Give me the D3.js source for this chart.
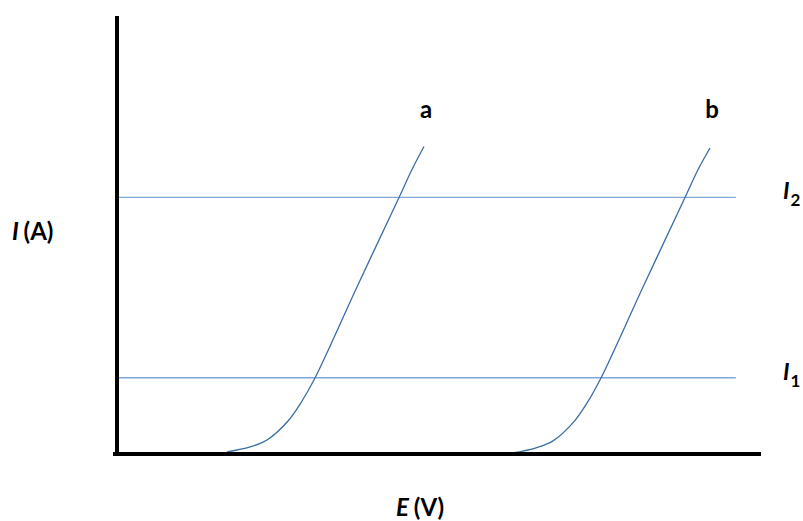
<!DOCTYPE html>
<html>
<head>
<meta charset="utf-8">
<script src="https://cdn.jsdelivr.net/npm/d3@7"></script>
<style>
  html, body { margin: 0; padding: 0; background: #fff; }
  svg { display: block; }
  text { font-family: Lato, "Open Sans", sans-serif; font-weight: bold; fill: #000; }
</style>
</head>
<body>
<svg id="chart" width="803" height="521"></svg>
<script>
// ---- data (arbitrary units) ----
const curveAE = [1.721, 2.078, 2.341, 2.667, 2.884, 3.085, 3.736, 4.388, 4.589, 4.775];
const curveAI = [0.046, 0.160, 0.320, 0.753, 1.210, 1.735, 3.813, 5.856, 6.495, 7.021];
const curveBE = [6.155, 6.512, 6.775, 7.101, 7.318, 7.519, 8.171, 8.822, 9.023, 9.209];
const curveBI = [0.023, 0.140, 0.300, 0.740, 1.200, 1.735, 3.813, 5.856, 6.490, 6.986];
const levelNames = ["1", "2"];
const levelValues = [1.74, 5.86];
const curveNames = ["a", "b"];
const xDomain = [0, 10];
const yDomain = [0, 10];
const levelEndE = 9.61;

const svg = d3.select("#chart");
const x = d3.scaleLinear().domain(xDomain).range([116, 761]);
const y = d3.scaleLinear().domain(yDomain).range([454, 16]);

// horizontal level lines
svg.selectAll("line.level").data(levelValues).enter().append("line")
  .attr("class", "level")
  .attr("x1", x(0)).attr("x2", x(levelEndE))
  .attr("y1", d => y(d)).attr("y2", d => y(d))
  .attr("stroke", "#7ea8dc").attr("stroke-width", 1.4);

// curves
const series = [
  { name: curveNames[0], pts: curveAE.map((e, i) => [e, curveAI[i]]) },
  { name: curveNames[1], pts: curveBE.map((e, i) => [e, curveBI[i]]) }
];
const line = d3.line().x(d => x(d[0])).y(d => y(d[1])).curve(d3.curveCatmullRom.alpha(0.5));
svg.selectAll("path.curve").data(series).enter().append("path")
  .attr("class", "curve")
  .attr("d", d => line(d.pts))
  .attr("fill", "none").attr("stroke", "#3a6ea5").attr("stroke-width", 1.3);

// curve labels
svg.selectAll("text.clabel").data(series).enter().append("text")
  .attr("class", "clabel")
  .attr("x", d => x(d.pts[d.pts.length - 1][0]) + 2)
  .attr("y", 118)
  .attr("text-anchor", "middle")
  .attr("font-size", 24)
  .text(d => d.name);

// axes (thick black lines)
svg.append("line")
  .attr("x1", x(0) + 1).attr("x2", x(0) + 1)
  .attr("y1", y(yDomain[1])).attr("y2", y(0) + 2)
  .attr("stroke", "#000").attr("stroke-width", 4);
svg.append("line")
  .attr("x1", x(0) - 3).attr("x2", x(xDomain[1]))
  .attr("y1", y(0)).attr("y2", y(0))
  .attr("stroke", "#000").attr("stroke-width", 4);

// level labels
levelValues.forEach((v, i) => {
  const t = svg.append("text").attr("x", 783).attr("y", y(v) + 2).attr("font-size", 23);
  t.append("tspan").attr("font-style", "italic").text("I");
  t.append("tspan").attr("font-size", 17).attr("dy", 7).attr("dx", 1).text(levelNames[i]);
});

// axis titles
const yt = svg.append("text").attr("x", 12).attr("y", 240).attr("font-size", 24);
yt.append("tspan").attr("font-style", "italic").text("I");
yt.append("tspan").attr("dx", -1).text(" (A)");

const xt = svg.append("text").attr("x", 396).attr("y", 516).attr("font-size", 24);
xt.append("tspan").attr("font-style", "italic").text("E");
xt.append("tspan").attr("dx", -1).text(" (V)");
</script>
</body>
</html>
